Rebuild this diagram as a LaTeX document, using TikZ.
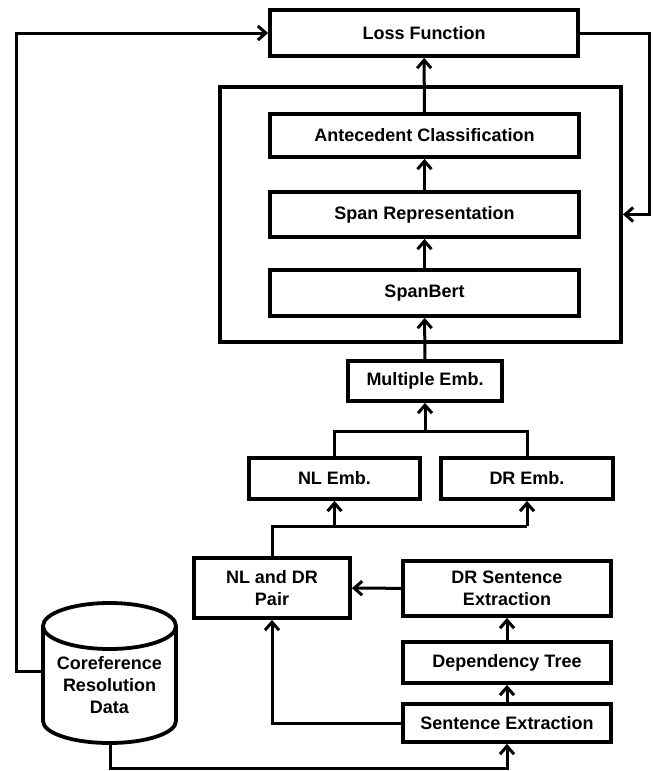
\documentclass[tikz,border=0pt]{standalone}
\usepackage{fontspec}
\setmainfont{Liberation Sans}
\usetikzlibrary{arrows.meta}
\begin{document}
\begin{tikzpicture}[x=1pt,y=-1pt,
  lw/.style={line width=3pt},
  bw/.style={line width=3.8pt},
  lbl/.style={font=\bfseries\fontsize{18}{21.5}\selectfont},
  box/.style={draw, bw, rectangle, inner sep=0pt, align=center, lbl},
  arr/.style={lw, -{Straight Barb[length=8pt,width=14pt,line width=3pt]}},
  conn/.style={lw}]
\useasboundingbox (0,0) rectangle (654,771);
% nodes
\node[box, minimum width=308pt, minimum height=46pt] (loss) at (424,33) {Loss Function};
\node[draw, bw, rectangle, inner sep=0pt, minimum width=401pt, minimum height=255pt] (frame) at (420.5,214.5) {};
\node[box, minimum width=309pt, minimum height=43pt] (ante) at (424.5,135.5) {Antecedent Classification};
\node[box, minimum width=309pt, minimum height=45pt] (span) at (424.5,214.5) {Span Representation};
\node[box, minimum width=309pt, minimum height=46pt] (bert) at (424.5,293) {SpanBert};
\node[box, minimum width=154pt, minimum height=40pt] (multi) at (425,381) {Multiple Emb.};
\node[box, minimum width=171pt, minimum height=41pt] (nl) at (334.5,478.5) {NL Emb.};
\node[box, minimum width=172pt, minimum height=41pt] (dr) at (527,478.5) {DR Emb.};
\node[box, minimum width=156pt, minimum height=60pt] (pair) at (272,588) {NL and DR\\Pair};
\node[box, minimum width=208pt, minimum height=55pt] (drse) at (507,588.5) {DR Sentence\\Extraction};
\node[box, minimum width=208pt, minimum height=41pt] (dep) at (507,662.5) {Dependency Tree};
\node[box, minimum width=208pt, minimum height=38pt] (sent) at (507,723) {Sentence Extraction};
% cylinder
\draw[bw] (43,626) -- (43,721) arc (180:360:66.5pt and 22pt) -- (176,626);
\draw[bw] (109.5,626) ellipse (66.5pt and 23pt);
\node[align=center, inner sep=0pt, font=\bfseries\fontsize{18}{22}\selectfont] (db) at (109.5,685) {Coreference\\Resolution\\Data};
\coordinate (dbL) at (43,671);
\coordinate (dbB) at (110,743);
% connectors
\draw[arr] (dbL) -- ++(-27,0) |- (loss.west);
\draw[arr] (dbB) -- ++(0,25) -| (sent.south);
\draw[arr] (sent.west) -| (pair.south);
\draw[arr] (sent) -- (dep);
\draw[arr] (dep) -- (drse);
\draw[arr] (drse) -- (pair);
\coordinate (j1) at ([yshift=30pt]pair.north);
\draw[conn] (pair.north) -- (j1) -- (j1 -| dr.south);
\draw[arr] (j1 -| nl.south) -- (nl.south);
\draw[arr] (j1 -| dr.south) -- (dr.south);
\coordinate (j2) at ([yshift=-29pt]multi.south);
\draw[conn] (nl.north) |- (j2) -| (dr.north);
\draw[arr] (j2) -- (multi.south);
\draw[arr] (multi) -- (bert);
\draw[arr] (bert) -- (span);
\draw[arr] (span) -- (ante);
\draw[arr] (ante) -- (loss);
\draw[arr] (loss.east) -- ++(70,0) |- (frame.east);
\end{tikzpicture}
\end{document}
